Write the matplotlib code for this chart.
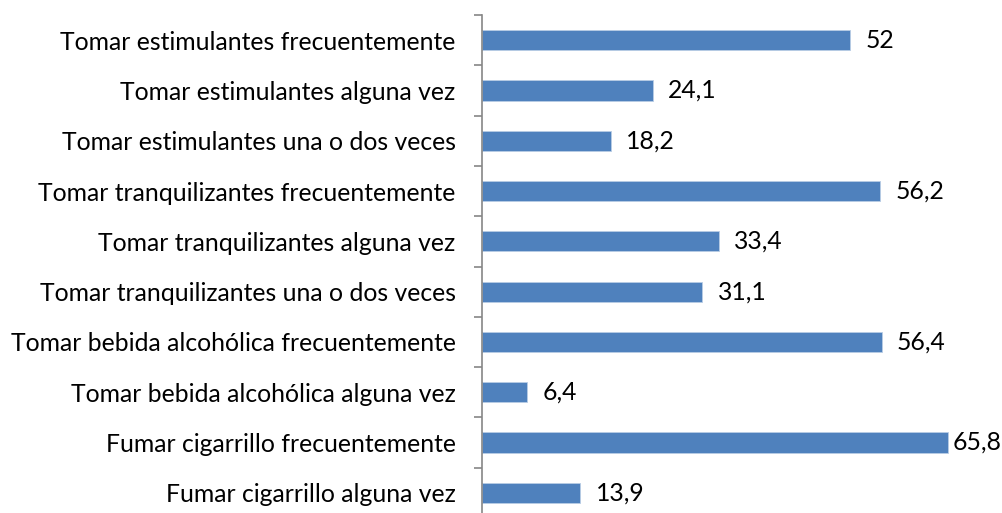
from matplotlib import pyplot as plt
import numpy as np

categorias = ['Tomar estimulantes frecuentemente',
              'Tomar estimulantes alguna vez',
              'Tomar estimulantes una o dos veces',
              'Tomar tranquilizantes frecuentemente',
              'Tomar tranquilizantes alguna vez',
              'Tomar tranquilizantes una o dos veces',
              'Tomar bebida alcohólica frecuentemente',
              'Tomar bebida alcohólica alguna vez',
              'Fumar cigarrillo frecuentemente',
              'Fumar cigarrillo alguna vez']
valores = [52, 24.1, 18.2, 56.2, 33.4, 31.1, 56.4, 6.4, 65.8, 13.9]

plt.rcParams['font.family'] = ['Lato', 'DejaVu Sans']

fig = plt.figure(figsize=(10.02, 5.13), dpi=100)
# eje vertical en x=482 px, arriba en y=15 px; el fondo queda fuera del recorte
ax = fig.add_axes([482/1002, -5/513, 510/1002, 503/513])

y = np.arange(len(categorias))
ax.barh(y, valores, height=0.4, color='#4F81BD', edgecolor='#B9CDE5', linewidth=0.6)
ax.set_ylim(len(categorias) - 0.5, -0.5)
ax.set_xlim(0, 72)

ax.set_yticks(y)
ax.set_yticklabels(categorias, fontsize=17.8, color='black')
ax.tick_params(axis='y', which='major', length=0, pad=19)
ax.set_yticks(np.arange(-0.5, len(categorias)), minor=True)
ax.tick_params(axis='y', which='minor', length=6, width=1.2, color='#868686')
ax.set_xticks([])

for s in ['top', 'right', 'bottom']:
    ax.spines[s].set_visible(False)
ax.spines['left'].set_color('#868686')
ax.spines['left'].set_linewidth(1.2)

for yi, v in zip(y, valores):
    txt = ('%g' % v).replace('.', ',')
    off = 3 if v > 60 else 11
    ax.annotate(txt, (v, yi), xytext=(off, 0), textcoords='offset points',
                va='center', ha='left', fontsize=17.8)

plt.savefig('out.png', dpi=100)
